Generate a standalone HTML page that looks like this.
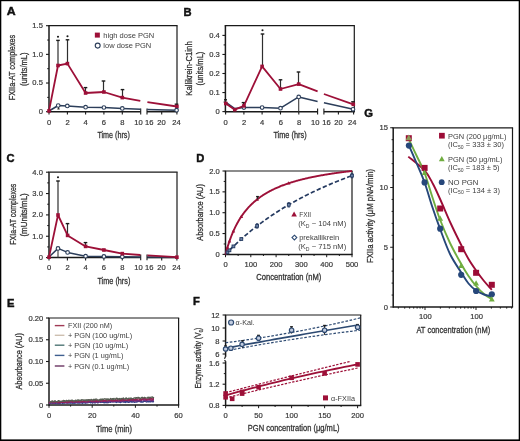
<!DOCTYPE html>
<html><head><meta charset="utf-8"><title>Figure</title>
<style>
html,body{margin:0;padding:0;background:#fff;}
body{width:520px;height:441px;overflow:hidden;}
svg{display:block;font-family:"Liberation Sans", sans-serif;filter:blur(0.3px);}
</style></head>
<body>
<svg width="520" height="441" viewBox="0 0 520 441">
<rect x="0" y="0" width="520" height="441" fill="#fff"/>
<text x="6.70" y="15.40" font-size="11.2" text-anchor="start" fill="#111" font-weight="bold" textLength="8.90" lengthAdjust="spacingAndGlyphs" stroke="#111" stroke-width="0.45" >A</text>
<line x1="48.25" y1="25.70" x2="177.60" y2="25.70" stroke="#1a1a1a" stroke-width="1.2" />
<line x1="177.00" y1="25.70" x2="177.00" y2="111.70" stroke="#1a1a1a" stroke-width="1.2" />
<line x1="49.00" y1="25.70" x2="49.00" y2="112.45" stroke="#1a1a1a" stroke-width="1.5" />
<line x1="49.00" y1="111.70" x2="140.70" y2="111.70" stroke="#1a1a1a" stroke-width="1.5" />
<line x1="147.00" y1="111.70" x2="177.60" y2="111.70" stroke="#1a1a1a" stroke-width="1.5" />
<line x1="140.70" y1="108.50" x2="140.70" y2="114.40" stroke="#1a1a1a" stroke-width="1.1" />
<line x1="147.00" y1="108.50" x2="147.00" y2="114.40" stroke="#1a1a1a" stroke-width="1.1" />
<line x1="49.00" y1="111.70" x2="49.00" y2="114.50" stroke="#1a1a1a" stroke-width="1.1" />
<line x1="67.40" y1="111.70" x2="67.40" y2="114.50" stroke="#1a1a1a" stroke-width="1.1" />
<line x1="85.60" y1="111.70" x2="85.60" y2="114.50" stroke="#1a1a1a" stroke-width="1.1" />
<line x1="103.90" y1="111.70" x2="103.90" y2="114.50" stroke="#1a1a1a" stroke-width="1.1" />
<line x1="122.30" y1="111.70" x2="122.30" y2="114.50" stroke="#1a1a1a" stroke-width="1.1" />
<line x1="161.70" y1="111.70" x2="161.70" y2="114.50" stroke="#1a1a1a" stroke-width="1.1" />
<line x1="176.90" y1="111.70" x2="176.90" y2="114.50" stroke="#1a1a1a" stroke-width="1.1" />
<text x="49.00" y="124.50" font-size="7.6" text-anchor="middle" fill="#383838" stroke="#383838" stroke-width="0.2" >0</text>
<text x="67.50" y="124.50" font-size="7.6" text-anchor="middle" fill="#383838" stroke="#383838" stroke-width="0.2" >2</text>
<text x="85.70" y="124.50" font-size="7.6" text-anchor="middle" fill="#383838" stroke="#383838" stroke-width="0.2" >4</text>
<text x="103.90" y="124.50" font-size="7.6" text-anchor="middle" fill="#383838" stroke="#383838" stroke-width="0.2" >6</text>
<text x="122.30" y="124.50" font-size="7.6" text-anchor="middle" fill="#383838" stroke="#383838" stroke-width="0.2" >8</text>
<text x="138.50" y="124.50" font-size="7.6" text-anchor="middle" fill="#383838" stroke="#383838" stroke-width="0.2" >10</text>
<text x="149.30" y="124.50" font-size="7.6" text-anchor="middle" fill="#383838" stroke="#383838" stroke-width="0.2" >16</text>
<text x="161.60" y="124.50" font-size="7.6" text-anchor="middle" fill="#383838" stroke="#383838" stroke-width="0.2" >20</text>
<text x="176.50" y="124.50" font-size="7.6" text-anchor="middle" fill="#383838" stroke="#383838" stroke-width="0.2" >24</text>
<line x1="46.00" y1="111.70" x2="49.00" y2="111.70" stroke="#1a1a1a" stroke-width="1.1" />
<text x="42.90" y="114.10" font-size="7.6" text-anchor="end" fill="#383838" stroke="#383838" stroke-width="0.2" >0</text>
<line x1="46.00" y1="83.03" x2="49.00" y2="83.03" stroke="#1a1a1a" stroke-width="1.1" />
<text x="42.90" y="85.44" font-size="7.6" text-anchor="end" fill="#383838" stroke="#383838" stroke-width="0.2" >0.5</text>
<line x1="46.00" y1="54.37" x2="49.00" y2="54.37" stroke="#1a1a1a" stroke-width="1.1" />
<text x="42.90" y="56.77" font-size="7.6" text-anchor="end" fill="#383838" stroke="#383838" stroke-width="0.2" >1.0</text>
<line x1="46.00" y1="25.70" x2="49.00" y2="25.70" stroke="#1a1a1a" stroke-width="1.1" />
<text x="42.90" y="28.10" font-size="7.6" text-anchor="end" fill="#383838" stroke="#383838" stroke-width="0.2" >1.5</text>
<line x1="47.20" y1="97.37" x2="49.00" y2="97.37" stroke="#1a1a1a" stroke-width="1.0" />
<line x1="47.20" y1="68.70" x2="49.00" y2="68.70" stroke="#1a1a1a" stroke-width="1.0" />
<line x1="47.20" y1="40.04" x2="49.00" y2="40.04" stroke="#1a1a1a" stroke-width="1.0" />
<text x="97.40" y="138.00" font-size="9.3" text-anchor="start" fill="#333333" textLength="32.40" lengthAdjust="spacingAndGlyphs" stroke="#333333" stroke-width="0.3" >Time (hrs)</text>
<text x="15.30" y="67.50" font-size="9.3" text-anchor="middle" fill="#333333" textLength="65.50" lengthAdjust="spacingAndGlyphs" transform="rotate(-90 15.30 67.50)" stroke="#333333" stroke-width="0.3" >FXIIa-AT complexes</text>
<text x="27.30" y="69.30" font-size="9.3" text-anchor="middle" fill="#333333" textLength="33.50" lengthAdjust="spacingAndGlyphs" transform="rotate(-90 27.30 69.30)" stroke="#333333" stroke-width="0.3" >(units/mL)</text>
<rect x="94.85" y="32.60" width="5.00" height="5.00" fill="#9d1038" />
<text x="103.30" y="37.60" font-size="7.5" text-anchor="start" fill="#404040" textLength="51.00" lengthAdjust="spacingAndGlyphs" >high dose PGN</text>
<circle cx="97.70" cy="45.60" r="2.45" fill="white" stroke="#2c3e5a" stroke-width="1.15"/>
<text x="103.30" y="48.10" font-size="7.5" text-anchor="start" fill="#404040" textLength="48.00" lengthAdjust="spacingAndGlyphs" >low dose PGN</text>
<line x1="58.50" y1="105.50" x2="58.50" y2="109.00" stroke="#2e2e2e" stroke-width="1.1" />
<line x1="57.30" y1="109.00" x2="59.70" y2="109.00" stroke="#2e2e2e" stroke-width="1.0" />
<polyline points="49.00,111.00 58.20,105.50 67.30,105.90 85.60,107.20 103.90,107.50 122.30,108.40 140.50,109.30" fill="none" stroke="#2c3e5a" stroke-width="1.5" stroke-linejoin="round" />
<polyline points="147.20,109.60 176.90,110.20" fill="none" stroke="#2c3e5a" stroke-width="1.5" stroke-linejoin="round" />
<line x1="58.00" y1="65.50" x2="58.00" y2="40.40" stroke="#2e2e2e" stroke-width="1.2" />
<line x1="56.20" y1="40.40" x2="59.80" y2="40.40" stroke="#1a1a1a" stroke-width="1.4" />
<circle cx="58.00" cy="36.80" r="1.05" fill="#1a1a1a" stroke="none" stroke-width="0"/>
<line x1="67.50" y1="63.60" x2="67.50" y2="39.80" stroke="#2e2e2e" stroke-width="1.2" />
<line x1="65.70" y1="39.80" x2="69.30" y2="39.80" stroke="#1a1a1a" stroke-width="1.4" />
<circle cx="67.50" cy="36.20" r="1.05" fill="#1a1a1a" stroke="none" stroke-width="0"/>
<line x1="85.50" y1="93.00" x2="85.50" y2="87.60" stroke="#2e2e2e" stroke-width="1.2" />
<line x1="83.70" y1="87.60" x2="87.30" y2="87.60" stroke="#1a1a1a" stroke-width="1.4" />
<line x1="103.50" y1="92.00" x2="103.50" y2="81.00" stroke="#2e2e2e" stroke-width="1.2" />
<line x1="101.70" y1="81.00" x2="105.30" y2="81.00" stroke="#1a1a1a" stroke-width="1.4" />
<line x1="122.50" y1="97.60" x2="122.50" y2="89.60" stroke="#2e2e2e" stroke-width="1.2" />
<line x1="120.70" y1="89.60" x2="124.30" y2="89.60" stroke="#1a1a1a" stroke-width="1.4" />
<line x1="176.50" y1="106.50" x2="176.50" y2="104.20" stroke="#2e2e2e" stroke-width="1.2" />
<line x1="174.70" y1="104.20" x2="178.30" y2="104.20" stroke="#1a1a1a" stroke-width="1.4" />
<polyline points="49.00,110.90 58.00,65.50 67.40,63.60 85.60,93.00 103.90,92.00 122.30,97.60 140.30,100.80" fill="none" stroke="#9d1038" stroke-width="1.8" stroke-linejoin="round" />
<polyline points="147.40,102.20 176.90,106.50" fill="none" stroke="#9d1038" stroke-width="1.8" stroke-linejoin="round" />
<rect x="47.20" y="109.10" width="3.60" height="3.60" fill="#9d1038" />
<rect x="56.20" y="63.70" width="3.60" height="3.60" fill="#9d1038" />
<rect x="65.60" y="61.80" width="3.60" height="3.60" fill="#9d1038" />
<rect x="83.80" y="91.20" width="3.60" height="3.60" fill="#9d1038" />
<rect x="102.10" y="90.20" width="3.60" height="3.60" fill="#9d1038" />
<rect x="120.50" y="95.80" width="3.60" height="3.60" fill="#9d1038" />
<rect x="175.10" y="104.70" width="3.60" height="3.60" fill="#9d1038" />
<circle cx="58.20" cy="105.50" r="1.8" fill="white" stroke="#2c3e5a" stroke-width="1.1"/>
<circle cx="67.30" cy="105.90" r="1.8" fill="white" stroke="#2c3e5a" stroke-width="1.1"/>
<circle cx="85.60" cy="107.20" r="1.8" fill="white" stroke="#2c3e5a" stroke-width="1.1"/>
<circle cx="103.90" cy="107.50" r="1.8" fill="white" stroke="#2c3e5a" stroke-width="1.1"/>
<circle cx="122.30" cy="108.40" r="1.8" fill="white" stroke="#2c3e5a" stroke-width="1.1"/>
<circle cx="176.60" cy="110.20" r="1.8" fill="white" stroke="#2c3e5a" stroke-width="1.1"/>
<text x="183.40" y="15.50" font-size="11.2" text-anchor="start" fill="#111" font-weight="bold" stroke="#111" stroke-width="0.45" >B</text>
<line x1="224.65" y1="25.70" x2="354.90" y2="25.70" stroke="#1a1a1a" stroke-width="1.2" />
<line x1="354.30" y1="25.70" x2="354.30" y2="111.70" stroke="#1a1a1a" stroke-width="1.2" />
<line x1="225.40" y1="25.70" x2="225.40" y2="112.45" stroke="#1a1a1a" stroke-width="1.5" />
<line x1="225.40" y1="111.70" x2="317.60" y2="111.70" stroke="#1a1a1a" stroke-width="1.5" />
<line x1="323.90" y1="111.70" x2="354.90" y2="111.70" stroke="#1a1a1a" stroke-width="1.5" />
<line x1="317.60" y1="108.50" x2="317.60" y2="114.40" stroke="#1a1a1a" stroke-width="1.1" />
<line x1="323.90" y1="108.50" x2="323.90" y2="114.40" stroke="#1a1a1a" stroke-width="1.1" />
<line x1="225.60" y1="111.70" x2="225.60" y2="114.50" stroke="#1a1a1a" stroke-width="1.1" />
<line x1="243.90" y1="111.70" x2="243.90" y2="114.50" stroke="#1a1a1a" stroke-width="1.1" />
<line x1="262.10" y1="111.70" x2="262.10" y2="114.50" stroke="#1a1a1a" stroke-width="1.1" />
<line x1="280.50" y1="111.70" x2="280.50" y2="114.50" stroke="#1a1a1a" stroke-width="1.1" />
<line x1="298.80" y1="111.70" x2="298.80" y2="114.50" stroke="#1a1a1a" stroke-width="1.1" />
<line x1="338.40" y1="111.70" x2="338.40" y2="114.50" stroke="#1a1a1a" stroke-width="1.1" />
<line x1="353.60" y1="111.70" x2="353.60" y2="114.50" stroke="#1a1a1a" stroke-width="1.1" />
<text x="225.70" y="124.50" font-size="7.6" text-anchor="middle" fill="#383838" stroke="#383838" stroke-width="0.2" >0</text>
<text x="244.00" y="124.50" font-size="7.6" text-anchor="middle" fill="#383838" stroke="#383838" stroke-width="0.2" >2</text>
<text x="262.10" y="124.50" font-size="7.6" text-anchor="middle" fill="#383838" stroke="#383838" stroke-width="0.2" >4</text>
<text x="280.80" y="124.50" font-size="7.6" text-anchor="middle" fill="#383838" stroke="#383838" stroke-width="0.2" >6</text>
<text x="299.00" y="124.50" font-size="7.6" text-anchor="middle" fill="#383838" stroke="#383838" stroke-width="0.2" >8</text>
<text x="315.20" y="124.50" font-size="7.6" text-anchor="middle" fill="#383838" stroke="#383838" stroke-width="0.2" >10</text>
<text x="326.60" y="124.50" font-size="7.6" text-anchor="middle" fill="#383838" stroke="#383838" stroke-width="0.2" >16</text>
<text x="338.40" y="124.50" font-size="7.6" text-anchor="middle" fill="#383838" stroke="#383838" stroke-width="0.2" >20</text>
<text x="352.20" y="124.50" font-size="7.6" text-anchor="middle" fill="#383838" stroke="#383838" stroke-width="0.2" >24</text>
<line x1="222.40" y1="111.60" x2="225.40" y2="111.60" stroke="#1a1a1a" stroke-width="1.1" />
<text x="219.80" y="114.00" font-size="7.6" text-anchor="end" fill="#383838" stroke="#383838" stroke-width="0.2" >0</text>
<line x1="222.40" y1="92.55" x2="225.40" y2="92.55" stroke="#1a1a1a" stroke-width="1.1" />
<text x="219.80" y="94.95" font-size="7.6" text-anchor="end" fill="#383838" stroke="#383838" stroke-width="0.2" >0.1</text>
<line x1="222.40" y1="73.50" x2="225.40" y2="73.50" stroke="#1a1a1a" stroke-width="1.1" />
<text x="219.80" y="75.90" font-size="7.6" text-anchor="end" fill="#383838" stroke="#383838" stroke-width="0.2" >0.2</text>
<line x1="222.40" y1="54.45" x2="225.40" y2="54.45" stroke="#1a1a1a" stroke-width="1.1" />
<text x="219.80" y="56.85" font-size="7.6" text-anchor="end" fill="#383838" stroke="#383838" stroke-width="0.2" >0.3</text>
<line x1="222.40" y1="35.40" x2="225.40" y2="35.40" stroke="#1a1a1a" stroke-width="1.1" />
<text x="219.80" y="37.80" font-size="7.6" text-anchor="end" fill="#383838" stroke="#383838" stroke-width="0.2" >0.4</text>
<line x1="223.60" y1="102.07" x2="225.40" y2="102.07" stroke="#1a1a1a" stroke-width="1.0" />
<line x1="223.60" y1="83.02" x2="225.40" y2="83.02" stroke="#1a1a1a" stroke-width="1.0" />
<line x1="223.60" y1="63.97" x2="225.40" y2="63.97" stroke="#1a1a1a" stroke-width="1.0" />
<line x1="223.60" y1="44.92" x2="225.40" y2="44.92" stroke="#1a1a1a" stroke-width="1.0" />
<text x="273.40" y="137.80" font-size="9.3" text-anchor="start" fill="#333333" textLength="33.20" lengthAdjust="spacingAndGlyphs" stroke="#333333" stroke-width="0.3" >Time (hrs)</text>
<text x="191.80" y="68.50" font-size="9.3" text-anchor="middle" fill="#333333" textLength="54.50" lengthAdjust="spacingAndGlyphs" transform="rotate(-90 191.80 68.50)" stroke="#333333" stroke-width="0.3" >Kallikrein-C1inh</text>
<text x="202.60" y="68.50" font-size="9.3" text-anchor="middle" fill="#333333" textLength="33.80" lengthAdjust="spacingAndGlyphs" transform="rotate(-90 202.60 68.50)" stroke="#333333" stroke-width="0.3" >(units/mL)</text>
<line x1="298.70" y1="96.90" x2="298.70" y2="111.70" stroke="#3a3a3a" stroke-width="1.1" />
<polyline points="225.60,102.00 234.80,108.60 243.90,107.60 262.10,107.60 280.50,108.20 298.70,96.90 317.60,101.60" fill="none" stroke="#2c3e5a" stroke-width="1.5" stroke-linejoin="round" />
<polyline points="323.90,102.70 353.30,109.30" fill="none" stroke="#2c3e5a" stroke-width="1.5" stroke-linejoin="round" />
<line x1="225.50" y1="103.50" x2="225.50" y2="99.80" stroke="#2e2e2e" stroke-width="1.2" />
<line x1="224.00" y1="99.80" x2="227.00" y2="99.80" stroke="#1a1a1a" stroke-width="1.4" />
<line x1="243.50" y1="105.90" x2="243.50" y2="102.60" stroke="#2e2e2e" stroke-width="1.2" />
<line x1="241.70" y1="102.60" x2="245.30" y2="102.60" stroke="#1a1a1a" stroke-width="1.4" />
<line x1="262.50" y1="66.40" x2="262.50" y2="34.00" stroke="#2e2e2e" stroke-width="1.2" />
<line x1="260.70" y1="34.00" x2="264.30" y2="34.00" stroke="#1a1a1a" stroke-width="1.4" />
<circle cx="262.50" cy="30.20" r="1.05" fill="#1a1a1a" stroke="none" stroke-width="0"/>
<line x1="280.50" y1="89.00" x2="280.50" y2="79.80" stroke="#2e2e2e" stroke-width="1.2" />
<line x1="278.70" y1="79.80" x2="282.30" y2="79.80" stroke="#1a1a1a" stroke-width="1.4" />
<line x1="298.50" y1="84.10" x2="298.50" y2="72.00" stroke="#2e2e2e" stroke-width="1.2" />
<line x1="296.70" y1="72.00" x2="300.30" y2="72.00" stroke="#1a1a1a" stroke-width="1.4" />
<line x1="353.00" y1="104.30" x2="353.00" y2="101.80" stroke="#2e2e2e" stroke-width="1.2" />
<line x1="351.20" y1="101.80" x2="354.80" y2="101.80" stroke="#1a1a1a" stroke-width="1.4" />
<polyline points="225.80,103.50 234.80,109.70 243.90,105.90 262.10,66.40 280.50,89.00 298.70,84.10 317.60,91.30" fill="none" stroke="#9d1038" stroke-width="1.8" stroke-linejoin="round" />
<polyline points="323.90,94.00 353.30,104.30" fill="none" stroke="#9d1038" stroke-width="1.8" stroke-linejoin="round" />
<circle cx="243.90" cy="107.60" r="1.8" fill="white" stroke="#2c3e5a" stroke-width="1.1"/>
<circle cx="262.10" cy="107.60" r="1.8" fill="white" stroke="#2c3e5a" stroke-width="1.1"/>
<circle cx="280.50" cy="108.20" r="1.8" fill="white" stroke="#2c3e5a" stroke-width="1.1"/>
<circle cx="298.70" cy="96.90" r="1.8" fill="white" stroke="#2c3e5a" stroke-width="1.1"/>
<circle cx="353.00" cy="109.30" r="1.8" fill="white" stroke="#2c3e5a" stroke-width="1.1"/>
<rect x="224.00" y="101.70" width="3.60" height="3.60" fill="#9d1038" />
<rect x="233.00" y="107.90" width="3.60" height="3.60" fill="#9d1038" />
<rect x="242.10" y="104.10" width="3.60" height="3.60" fill="#9d1038" />
<rect x="260.30" y="64.60" width="3.60" height="3.60" fill="#9d1038" />
<rect x="278.70" y="87.20" width="3.60" height="3.60" fill="#9d1038" />
<rect x="296.90" y="82.30" width="3.60" height="3.60" fill="#9d1038" />
<rect x="351.50" y="102.50" width="3.60" height="3.60" fill="#9d1038" />
<text x="6.40" y="161.60" font-size="11.2" text-anchor="start" fill="#111" font-weight="bold" stroke="#111" stroke-width="0.45" >C</text>
<line x1="48.25" y1="172.20" x2="177.60" y2="172.20" stroke="#1a1a1a" stroke-width="1.2" />
<line x1="177.00" y1="172.20" x2="177.00" y2="257.60" stroke="#1a1a1a" stroke-width="1.2" />
<line x1="49.00" y1="172.20" x2="49.00" y2="258.35" stroke="#1a1a1a" stroke-width="1.5" />
<line x1="49.00" y1="257.60" x2="140.70" y2="257.60" stroke="#1a1a1a" stroke-width="1.5" />
<line x1="147.00" y1="257.60" x2="177.60" y2="257.60" stroke="#1a1a1a" stroke-width="1.5" />
<line x1="140.70" y1="254.40" x2="140.70" y2="260.30" stroke="#1a1a1a" stroke-width="1.1" />
<line x1="147.00" y1="254.40" x2="147.00" y2="260.30" stroke="#1a1a1a" stroke-width="1.1" />
<line x1="49.00" y1="257.60" x2="49.00" y2="260.40" stroke="#1a1a1a" stroke-width="1.1" />
<line x1="67.40" y1="257.60" x2="67.40" y2="260.40" stroke="#1a1a1a" stroke-width="1.1" />
<line x1="85.60" y1="257.60" x2="85.60" y2="260.40" stroke="#1a1a1a" stroke-width="1.1" />
<line x1="103.90" y1="257.60" x2="103.90" y2="260.40" stroke="#1a1a1a" stroke-width="1.1" />
<line x1="122.30" y1="257.60" x2="122.30" y2="260.40" stroke="#1a1a1a" stroke-width="1.1" />
<line x1="161.70" y1="257.60" x2="161.70" y2="260.40" stroke="#1a1a1a" stroke-width="1.1" />
<line x1="176.90" y1="257.60" x2="176.90" y2="260.40" stroke="#1a1a1a" stroke-width="1.1" />
<text x="49.00" y="270.40" font-size="7.6" text-anchor="middle" fill="#383838" stroke="#383838" stroke-width="0.2" >0</text>
<text x="67.50" y="270.40" font-size="7.6" text-anchor="middle" fill="#383838" stroke="#383838" stroke-width="0.2" >2</text>
<text x="85.70" y="270.40" font-size="7.6" text-anchor="middle" fill="#383838" stroke="#383838" stroke-width="0.2" >4</text>
<text x="103.90" y="270.40" font-size="7.6" text-anchor="middle" fill="#383838" stroke="#383838" stroke-width="0.2" >6</text>
<text x="122.30" y="270.40" font-size="7.6" text-anchor="middle" fill="#383838" stroke="#383838" stroke-width="0.2" >8</text>
<text x="138.50" y="270.40" font-size="7.6" text-anchor="middle" fill="#383838" stroke="#383838" stroke-width="0.2" >10</text>
<text x="149.30" y="270.40" font-size="7.6" text-anchor="middle" fill="#383838" stroke="#383838" stroke-width="0.2" >16</text>
<text x="161.60" y="270.40" font-size="7.6" text-anchor="middle" fill="#383838" stroke="#383838" stroke-width="0.2" >20</text>
<text x="176.50" y="270.40" font-size="7.6" text-anchor="middle" fill="#383838" stroke="#383838" stroke-width="0.2" >24</text>
<line x1="46.00" y1="257.60" x2="49.00" y2="257.60" stroke="#1a1a1a" stroke-width="1.1" />
<text x="42.90" y="260.00" font-size="7.6" text-anchor="end" fill="#383838" stroke="#383838" stroke-width="0.2" >0</text>
<line x1="46.00" y1="236.25" x2="49.00" y2="236.25" stroke="#1a1a1a" stroke-width="1.1" />
<text x="42.90" y="238.65" font-size="7.6" text-anchor="end" fill="#383838" stroke="#383838" stroke-width="0.2" >1.0</text>
<line x1="46.00" y1="214.90" x2="49.00" y2="214.90" stroke="#1a1a1a" stroke-width="1.1" />
<text x="42.90" y="217.30" font-size="7.6" text-anchor="end" fill="#383838" stroke="#383838" stroke-width="0.2" >2.0</text>
<line x1="46.00" y1="193.55" x2="49.00" y2="193.55" stroke="#1a1a1a" stroke-width="1.1" />
<text x="42.90" y="195.95" font-size="7.6" text-anchor="end" fill="#383838" stroke="#383838" stroke-width="0.2" >3.0</text>
<line x1="46.00" y1="172.20" x2="49.00" y2="172.20" stroke="#1a1a1a" stroke-width="1.1" />
<text x="42.90" y="174.60" font-size="7.6" text-anchor="end" fill="#383838" stroke="#383838" stroke-width="0.2" >4.0</text>
<line x1="47.20" y1="246.93" x2="49.00" y2="246.93" stroke="#1a1a1a" stroke-width="1.0" />
<line x1="47.20" y1="225.58" x2="49.00" y2="225.58" stroke="#1a1a1a" stroke-width="1.0" />
<line x1="47.20" y1="204.23" x2="49.00" y2="204.23" stroke="#1a1a1a" stroke-width="1.0" />
<line x1="47.20" y1="182.88" x2="49.00" y2="182.88" stroke="#1a1a1a" stroke-width="1.0" />
<text x="97.40" y="284.20" font-size="9.3" text-anchor="start" fill="#333333" textLength="33.00" lengthAdjust="spacingAndGlyphs" stroke="#333333" stroke-width="0.3" >Time (hrs)</text>
<text x="15.80" y="214.20" font-size="9.3" text-anchor="middle" fill="#333333" textLength="61.00" lengthAdjust="spacingAndGlyphs" transform="rotate(-90 15.80 214.20)" stroke="#333333" stroke-width="0.3" >FXIa-AT complexes</text>
<text x="27.30" y="214.90" font-size="9.3" text-anchor="middle" fill="#333333" textLength="43.30" lengthAdjust="spacingAndGlyphs" transform="rotate(-90 27.30 214.90)" stroke="#333333" stroke-width="0.3" >(mUnits/mL)</text>
<line x1="58.00" y1="248.40" x2="58.00" y2="257.60" stroke="#3a3a3a" stroke-width="1.1" />
<polyline points="49.00,257.00 58.00,248.40 67.60,252.40 85.60,256.20 103.90,256.40 122.30,256.80 140.50,257.00" fill="none" stroke="#2c3e5a" stroke-width="1.5" stroke-linejoin="round" />
<polyline points="147.20,257.00 176.90,257.20" fill="none" stroke="#2c3e5a" stroke-width="1.5" stroke-linejoin="round" />
<line x1="58.00" y1="215.00" x2="58.00" y2="181.00" stroke="#2e2e2e" stroke-width="1.2" />
<line x1="56.20" y1="181.00" x2="59.80" y2="181.00" stroke="#1a1a1a" stroke-width="1.4" />
<circle cx="58.00" cy="177.20" r="1.05" fill="#1a1a1a" stroke="none" stroke-width="0"/>
<line x1="67.50" y1="235.40" x2="67.50" y2="223.60" stroke="#2e2e2e" stroke-width="1.2" />
<line x1="65.70" y1="223.60" x2="69.30" y2="223.60" stroke="#1a1a1a" stroke-width="1.4" />
<line x1="85.50" y1="246.40" x2="85.50" y2="242.60" stroke="#2e2e2e" stroke-width="1.2" />
<line x1="83.70" y1="242.60" x2="87.30" y2="242.60" stroke="#1a1a1a" stroke-width="1.4" />
<polyline points="49.00,257.20 58.00,215.00 67.60,235.40 85.60,246.40 103.90,250.00 122.30,253.60 140.30,255.00" fill="none" stroke="#9d1038" stroke-width="1.8" stroke-linejoin="round" />
<polyline points="147.40,255.40 176.90,257.20" fill="none" stroke="#9d1038" stroke-width="1.8" stroke-linejoin="round" />
<circle cx="58.00" cy="248.40" r="1.8" fill="white" stroke="#2c3e5a" stroke-width="1.1"/>
<circle cx="67.60" cy="252.40" r="1.8" fill="white" stroke="#2c3e5a" stroke-width="1.1"/>
<circle cx="85.60" cy="256.20" r="1.8" fill="white" stroke="#2c3e5a" stroke-width="1.1"/>
<circle cx="103.90" cy="256.40" r="1.8" fill="white" stroke="#2c3e5a" stroke-width="1.1"/>
<circle cx="122.30" cy="256.80" r="1.8" fill="white" stroke="#2c3e5a" stroke-width="1.1"/>
<rect x="47.20" y="255.40" width="3.60" height="3.60" fill="#9d1038" />
<rect x="56.20" y="213.20" width="3.60" height="3.60" fill="#9d1038" />
<rect x="65.80" y="233.60" width="3.60" height="3.60" fill="#9d1038" />
<rect x="83.80" y="244.60" width="3.60" height="3.60" fill="#9d1038" />
<rect x="102.10" y="248.20" width="3.60" height="3.60" fill="#9d1038" />
<rect x="120.50" y="251.80" width="3.60" height="3.60" fill="#9d1038" />
<rect x="175.10" y="255.40" width="3.60" height="3.60" fill="#9d1038" />
<text x="196.20" y="161.60" font-size="11.2" text-anchor="start" fill="#111" font-weight="bold" stroke="#111" stroke-width="0.45" >D</text>
<line x1="224.75" y1="171.00" x2="352.60" y2="171.00" stroke="#1a1a1a" stroke-width="1.2" />
<line x1="352.00" y1="171.00" x2="352.00" y2="254.40" stroke="#1a1a1a" stroke-width="1.2" />
<line x1="225.50" y1="171.00" x2="225.50" y2="255.15" stroke="#1a1a1a" stroke-width="1.5" />
<line x1="225.50" y1="254.40" x2="352.60" y2="254.40" stroke="#1a1a1a" stroke-width="1.5" />
<line x1="225.50" y1="254.40" x2="225.50" y2="257.20" stroke="#1a1a1a" stroke-width="1.0" />
<line x1="238.15" y1="254.40" x2="238.15" y2="256.00" stroke="#1a1a1a" stroke-width="1.0" />
<line x1="250.80" y1="254.40" x2="250.80" y2="257.20" stroke="#1a1a1a" stroke-width="1.0" />
<line x1="263.45" y1="254.40" x2="263.45" y2="256.00" stroke="#1a1a1a" stroke-width="1.0" />
<line x1="276.10" y1="254.40" x2="276.10" y2="257.20" stroke="#1a1a1a" stroke-width="1.0" />
<line x1="288.75" y1="254.40" x2="288.75" y2="256.00" stroke="#1a1a1a" stroke-width="1.0" />
<line x1="301.40" y1="254.40" x2="301.40" y2="257.20" stroke="#1a1a1a" stroke-width="1.0" />
<line x1="314.05" y1="254.40" x2="314.05" y2="256.00" stroke="#1a1a1a" stroke-width="1.0" />
<line x1="326.70" y1="254.40" x2="326.70" y2="257.20" stroke="#1a1a1a" stroke-width="1.0" />
<line x1="339.35" y1="254.40" x2="339.35" y2="256.00" stroke="#1a1a1a" stroke-width="1.0" />
<line x1="352.00" y1="254.40" x2="352.00" y2="257.20" stroke="#1a1a1a" stroke-width="1.0" />
<text x="225.50" y="267.00" font-size="7.6" text-anchor="middle" fill="#383838" stroke="#383838" stroke-width="0.2" >0</text>
<text x="250.80" y="267.00" font-size="7.6" text-anchor="middle" fill="#383838" stroke="#383838" stroke-width="0.2" >100</text>
<text x="276.10" y="267.00" font-size="7.6" text-anchor="middle" fill="#383838" stroke="#383838" stroke-width="0.2" >200</text>
<text x="301.40" y="267.00" font-size="7.6" text-anchor="middle" fill="#383838" stroke="#383838" stroke-width="0.2" >300</text>
<text x="326.70" y="267.00" font-size="7.6" text-anchor="middle" fill="#383838" stroke="#383838" stroke-width="0.2" >400</text>
<text x="352.00" y="267.00" font-size="7.6" text-anchor="middle" fill="#383838" stroke="#383838" stroke-width="0.2" >500</text>
<line x1="222.50" y1="254.40" x2="225.50" y2="254.40" stroke="#1a1a1a" stroke-width="1.1" />
<text x="219.80" y="257.00" font-size="7.6" text-anchor="end" fill="#383838" stroke="#383838" stroke-width="0.2" >0</text>
<line x1="222.50" y1="233.55" x2="225.50" y2="233.55" stroke="#1a1a1a" stroke-width="1.1" />
<text x="219.80" y="236.15" font-size="7.6" text-anchor="end" fill="#383838" stroke="#383838" stroke-width="0.2" >0.5</text>
<line x1="222.50" y1="212.70" x2="225.50" y2="212.70" stroke="#1a1a1a" stroke-width="1.1" />
<text x="219.80" y="215.30" font-size="7.6" text-anchor="end" fill="#383838" stroke="#383838" stroke-width="0.2" >1.0</text>
<line x1="222.50" y1="191.85" x2="225.50" y2="191.85" stroke="#1a1a1a" stroke-width="1.1" />
<text x="219.80" y="194.45" font-size="7.6" text-anchor="end" fill="#383838" stroke="#383838" stroke-width="0.2" >1.5</text>
<line x1="222.50" y1="171.00" x2="225.50" y2="171.00" stroke="#1a1a1a" stroke-width="1.1" />
<text x="219.80" y="173.60" font-size="7.6" text-anchor="end" fill="#383838" stroke="#383838" stroke-width="0.2" >2.0</text>
<line x1="223.70" y1="243.97" x2="225.50" y2="243.97" stroke="#1a1a1a" stroke-width="1.0" />
<line x1="223.70" y1="223.12" x2="225.50" y2="223.12" stroke="#1a1a1a" stroke-width="1.0" />
<line x1="223.70" y1="202.28" x2="225.50" y2="202.28" stroke="#1a1a1a" stroke-width="1.0" />
<line x1="223.70" y1="181.43" x2="225.50" y2="181.43" stroke="#1a1a1a" stroke-width="1.0" />
<text x="256.30" y="279.90" font-size="9.3" text-anchor="start" fill="#333333" textLength="65.00" lengthAdjust="spacingAndGlyphs" stroke="#333333" stroke-width="0.3" >Concentration (nM)</text>
<text x="203.30" y="212.40" font-size="9.3" text-anchor="middle" fill="#333333" textLength="56.50" lengthAdjust="spacingAndGlyphs" transform="rotate(-90 203.30 212.40)" stroke="#333333" stroke-width="0.3" >Absorbance (AU)</text>
<polyline points="225.50,254.40 226.76,253.07 228.03,251.76 229.29,250.47 230.56,249.19 231.82,247.93 233.09,246.69 234.35,245.47 235.62,244.26 236.88,243.07 238.15,241.89 239.41,240.73 240.68,239.58 241.94,238.45 243.21,237.33 244.47,236.23 245.74,235.14 247.00,234.06 248.27,233.00 249.53,231.95 250.80,230.91 252.06,229.89 253.33,228.88 254.59,227.88 255.86,226.89 257.12,225.92 258.39,224.95 259.65,224.00 260.92,223.06 262.19,222.13 263.45,221.21 264.72,220.30 265.98,219.40 267.25,218.51 268.51,217.63 269.77,216.76 271.04,215.91 272.31,215.06 273.57,214.22 274.83,213.39 276.10,212.56 277.37,211.75 278.63,210.95 279.89,210.15 281.16,209.36 282.43,208.59 283.69,207.82 284.95,207.05 286.22,206.30 287.49,205.55 288.75,204.81 290.01,204.08 291.28,203.36 292.55,202.64 293.81,201.93 295.07,201.23 296.34,200.54 297.61,199.85 298.87,199.17 300.13,198.50 301.40,197.83 302.67,197.17 303.93,196.51 305.19,195.86 306.46,195.22 307.73,194.59 308.99,193.96 310.25,193.33 311.52,192.72 312.78,192.10 314.05,191.50 315.31,190.90 316.58,190.30 317.85,189.71 319.11,189.13 320.38,188.55 321.64,187.98 322.90,187.41 324.17,186.85 325.44,186.29 326.70,185.74 327.97,185.19 329.23,184.64 330.50,184.11 331.76,183.57 333.02,183.04 334.29,182.52 335.56,182.00 336.82,181.48 338.08,180.97 339.35,180.47 340.62,179.97 341.88,179.47 343.14,178.97 344.41,178.48 345.68,178.00 346.94,177.52 348.20,177.04 349.47,176.57 350.74,176.10 352.00,175.63" fill="none" stroke="#253a60" stroke-width="1.7" stroke-linejoin="round" stroke-dasharray="4.4,2.2"/>
<polyline points="225.50,254.40 226.13,252.04 226.76,249.78 227.40,247.62 228.03,245.56 228.66,243.59 229.29,241.70 229.93,239.89 230.56,238.15 231.19,236.48 231.82,234.88 232.46,233.33 233.09,231.84 233.72,230.41 234.35,229.03 234.99,227.70 235.62,226.41 236.25,225.17 236.88,223.97 237.52,222.81 238.15,221.69 238.78,220.60 239.41,219.55 240.05,218.53 240.68,217.54 241.31,216.58 241.94,215.65 242.58,214.75 243.21,213.87 243.84,213.02 244.47,212.19 245.11,211.38 245.74,210.60 246.37,209.83 247.00,209.09 247.64,208.37 248.27,207.66 248.90,206.97 249.53,206.30 250.17,205.65 250.80,205.01 251.43,204.39 252.06,203.79 252.70,203.19 253.33,202.61 253.96,202.05 254.59,201.50 255.23,200.96 255.86,200.43 256.49,199.91 257.12,199.41 257.76,198.91 258.39,198.43 259.02,197.96 259.65,197.49 260.29,197.04 260.92,196.59 261.55,196.16 262.19,195.73 262.82,195.31 263.45,194.90 264.08,194.50 264.72,194.11 265.35,193.72 265.98,193.34 266.61,192.97 267.25,192.60 267.88,192.24 268.51,191.89 269.14,191.55 269.77,191.21 270.41,190.87 271.04,190.55 271.67,190.22 272.31,189.91 272.94,189.60 273.57,189.29 274.20,188.99 274.83,188.70 275.47,188.40 276.10,188.12 276.73,187.84 277.37,187.56 278.00,187.29 278.63,187.02 279.26,186.76 279.89,186.50 280.53,186.24 281.16,185.99 281.79,185.74 282.43,185.50 283.06,185.26 283.69,185.02 284.32,184.79 284.95,184.56 285.59,184.33 286.22,184.11 286.85,183.89 287.49,183.67 288.12,183.46 288.75,183.25 289.38,183.04 290.01,182.84 290.65,182.64 291.28,182.44 291.91,182.24 292.55,182.05 293.18,181.86 293.81,181.67 294.44,181.48 295.07,181.30 295.71,181.12 296.34,180.94 296.97,180.76 297.61,180.59 298.24,180.42 298.87,180.25 299.50,180.08 300.13,179.91 300.77,179.75 301.40,179.59 302.03,179.43 302.67,179.27 303.30,179.12 303.93,178.96 304.56,178.81 305.19,178.66 305.83,178.51 306.46,178.36 307.09,178.22 307.73,178.08 308.36,177.93 308.99,177.79 309.62,177.66 310.25,177.52 310.89,177.38 311.52,177.25 312.15,177.12 312.78,176.99 313.42,176.86 314.05,176.73 314.68,176.61 315.31,176.48 315.95,176.36 316.58,176.23 317.21,176.11 317.85,175.99 318.48,175.87 319.11,175.76 319.74,175.64 320.38,175.53 321.01,175.41 321.64,175.30 322.27,175.19 322.90,175.08 323.54,174.97 324.17,174.86 324.80,174.76 325.44,174.65 326.07,174.55 326.70,174.44 327.33,174.34 327.97,174.24 328.60,174.14 329.23,174.04 329.86,173.94 330.50,173.84 331.13,173.74 331.76,173.65 332.39,173.55 333.02,173.46 333.66,173.37 334.29,173.27 334.92,173.18 335.56,173.09 336.19,173.00 336.82,172.91 337.45,172.83 338.08,172.74 338.72,172.65 339.35,172.57 339.98,172.48 340.62,172.40 341.25,172.31 341.88,172.23 342.51,172.15 343.14,172.07 343.78,171.99 344.41,171.91 345.04,171.83 345.68,171.75 346.31,171.67 346.94,171.59 347.57,171.52 348.20,171.44 348.84,171.37 349.47,171.29 350.10,171.22 350.74,171.14 351.37,171.07 352.00,171.00" fill="none" stroke="#9d1038" stroke-width="1.9" stroke-linejoin="round" />
<rect x="226.07" y="250.93" width="2.80" height="2.80" fill="#6f85a8" stroke="#253a60" stroke-width="0.9"/>
<rect x="228.05" y="248.91" width="2.80" height="2.80" fill="#6f85a8" stroke="#253a60" stroke-width="0.9"/>
<rect x="232.01" y="244.98" width="2.80" height="2.80" fill="#6f85a8" stroke="#253a60" stroke-width="0.9"/>
<rect x="239.91" y="237.61" width="2.80" height="2.80" fill="#6f85a8" stroke="#253a60" stroke-width="0.9"/>
<line x1="257.12" y1="228.12" x2="257.12" y2="223.72" stroke="#253a60" stroke-width="1.0" />
<line x1="255.93" y1="223.72" x2="258.32" y2="223.72" stroke="#253a60" stroke-width="0.9" />
<line x1="255.93" y1="228.12" x2="258.32" y2="228.12" stroke="#253a60" stroke-width="0.9" />
<rect x="255.72" y="224.52" width="2.80" height="2.80" fill="#6f85a8" stroke="#253a60" stroke-width="0.9"/>
<line x1="288.75" y1="207.01" x2="288.75" y2="202.61" stroke="#253a60" stroke-width="1.0" />
<line x1="287.55" y1="202.61" x2="289.95" y2="202.61" stroke="#253a60" stroke-width="0.9" />
<line x1="287.55" y1="207.01" x2="289.95" y2="207.01" stroke="#253a60" stroke-width="0.9" />
<rect x="287.35" y="203.41" width="2.80" height="2.80" fill="#6f85a8" stroke="#253a60" stroke-width="0.9"/>
<line x1="352.00" y1="177.83" x2="352.00" y2="173.43" stroke="#253a60" stroke-width="1.0" />
<line x1="350.80" y1="173.43" x2="353.20" y2="173.43" stroke="#253a60" stroke-width="0.9" />
<line x1="350.80" y1="177.83" x2="353.20" y2="177.83" stroke="#253a60" stroke-width="0.9" />
<rect x="350.60" y="174.23" width="2.80" height="2.80" fill="#6f85a8" stroke="#253a60" stroke-width="0.9"/>
<polygon points="227.47,245.43 225.67,248.67 229.27,248.67" fill="#9d1038" stroke="none" stroke-width="0"/>
<polygon points="229.45,239.32 227.65,242.56 231.25,242.56" fill="#9d1038" stroke="none" stroke-width="0"/>
<polygon points="233.41,229.18 231.61,232.42 235.21,232.42" fill="#9d1038" stroke="none" stroke-width="0"/>
<polygon points="241.31,214.64 239.51,217.88 243.11,217.88" fill="#9d1038" stroke="none" stroke-width="0"/>
<polygon points="257.12,197.46 255.32,200.70 258.93,200.70" fill="#9d1038" stroke="none" stroke-width="0"/>
<polygon points="288.75,181.31 286.95,184.55 290.55,184.55" fill="#9d1038" stroke="none" stroke-width="0"/>
<line x1="257.50" y1="199.41" x2="257.50" y2="196.61" stroke="#2e2e2e" stroke-width="1.2" />
<line x1="256.10" y1="196.61" x2="258.90" y2="196.61" stroke="#1a1a1a" stroke-width="1.4" />
<polygon points="294.10,211.58 291.30,216.62 296.90,216.62" fill="#9d1038" stroke="none" stroke-width="0"/>
<text x="299.20" y="217.00" font-size="7.5" text-anchor="start" fill="#404040" textLength="12.00" lengthAdjust="spacingAndGlyphs" >FXII</text>
<text x="298.20" y="226.20" font-size="7.5" text-anchor="start" fill="#404040" textLength="48.00" lengthAdjust="spacingAndGlyphs" >(K<tspan font-size='5' dy='1.5'>D</tspan><tspan dy='-1.5'> ~ 104 nM)</tspan></text>
<polygon points="294.40,235.20 296.80,237.60 294.40,240.00 292.00,237.60" fill="white" stroke="#2d4a72" stroke-width="1.1"/>
<text x="299.20" y="240.10" font-size="7.5" text-anchor="start" fill="#404040" textLength="40.00" lengthAdjust="spacingAndGlyphs" >prekallikrein</text>
<text x="298.20" y="249.00" font-size="7.5" text-anchor="start" fill="#404040" textLength="48.00" lengthAdjust="spacingAndGlyphs" >(K<tspan font-size='5' dy='1.5'>D</tspan><tspan dy='-1.5'> ~ 715 nM)</tspan></text>
<text x="7.00" y="307.40" font-size="11.2" text-anchor="start" fill="#111" font-weight="bold" stroke="#111" stroke-width="0.45" >E</text>
<line x1="48.25" y1="318.00" x2="179.20" y2="318.00" stroke="#1a1a1a" stroke-width="1.2" />
<line x1="178.60" y1="318.00" x2="178.60" y2="405.00" stroke="#1a1a1a" stroke-width="1.2" />
<line x1="49.00" y1="318.00" x2="49.00" y2="405.75" stroke="#1a1a1a" stroke-width="1.5" />
<line x1="49.00" y1="405.00" x2="179.20" y2="405.00" stroke="#1a1a1a" stroke-width="1.5" />
<line x1="49.00" y1="405.00" x2="49.00" y2="407.80" stroke="#1a1a1a" stroke-width="1.0" />
<line x1="70.60" y1="405.00" x2="70.60" y2="406.60" stroke="#1a1a1a" stroke-width="1.0" />
<line x1="92.20" y1="405.00" x2="92.20" y2="407.80" stroke="#1a1a1a" stroke-width="1.0" />
<line x1="113.80" y1="405.00" x2="113.80" y2="406.60" stroke="#1a1a1a" stroke-width="1.0" />
<line x1="135.40" y1="405.00" x2="135.40" y2="407.80" stroke="#1a1a1a" stroke-width="1.0" />
<line x1="157.00" y1="405.00" x2="157.00" y2="406.60" stroke="#1a1a1a" stroke-width="1.0" />
<line x1="178.60" y1="405.00" x2="178.60" y2="407.80" stroke="#1a1a1a" stroke-width="1.0" />
<text x="49.00" y="417.60" font-size="7.6" text-anchor="middle" fill="#383838" stroke="#383838" stroke-width="0.2" >0</text>
<text x="92.20" y="417.60" font-size="7.6" text-anchor="middle" fill="#383838" stroke="#383838" stroke-width="0.2" >20</text>
<text x="135.40" y="417.60" font-size="7.6" text-anchor="middle" fill="#383838" stroke="#383838" stroke-width="0.2" >40</text>
<text x="178.60" y="417.60" font-size="7.6" text-anchor="middle" fill="#383838" stroke="#383838" stroke-width="0.2" >60</text>
<line x1="46.00" y1="405.00" x2="49.00" y2="405.00" stroke="#1a1a1a" stroke-width="1.1" />
<text x="43.30" y="407.60" font-size="7.6" text-anchor="end" fill="#383838" stroke="#383838" stroke-width="0.2" >0</text>
<line x1="46.00" y1="383.25" x2="49.00" y2="383.25" stroke="#1a1a1a" stroke-width="1.1" />
<text x="43.30" y="385.85" font-size="7.6" text-anchor="end" fill="#383838" stroke="#383838" stroke-width="0.2" >0.05</text>
<line x1="46.00" y1="361.50" x2="49.00" y2="361.50" stroke="#1a1a1a" stroke-width="1.1" />
<text x="43.30" y="364.10" font-size="7.6" text-anchor="end" fill="#383838" stroke="#383838" stroke-width="0.2" >0.10</text>
<line x1="46.00" y1="339.75" x2="49.00" y2="339.75" stroke="#1a1a1a" stroke-width="1.1" />
<text x="43.30" y="342.35" font-size="7.6" text-anchor="end" fill="#383838" stroke="#383838" stroke-width="0.2" >0.15</text>
<line x1="46.00" y1="318.00" x2="49.00" y2="318.00" stroke="#1a1a1a" stroke-width="1.1" />
<text x="43.30" y="320.60" font-size="7.6" text-anchor="end" fill="#383838" stroke="#383838" stroke-width="0.2" >0.20</text>
<text x="96.00" y="431.50" font-size="9.3" text-anchor="start" fill="#333333" textLength="36.00" lengthAdjust="spacingAndGlyphs" stroke="#333333" stroke-width="0.3" >Time (min)</text>
<text x="22.20" y="361.30" font-size="9.3" text-anchor="middle" fill="#333333" textLength="56.50" lengthAdjust="spacingAndGlyphs" transform="rotate(-90 22.20 361.30)" stroke="#333333" stroke-width="0.3" >Absorbance (AU)</text>
<polyline points="49.00,403.12 49.50,402.94 50.00,403.43 50.50,402.85 51.00,403.30 51.50,403.12 52.00,402.80 52.50,403.24 53.00,402.77 53.50,403.15 54.00,402.78 54.50,402.79 55.00,403.12 55.50,403.51 56.00,402.80 56.50,402.89 57.00,403.28 57.50,403.59 58.00,403.21 58.50,403.02 59.00,403.60 59.50,402.66 60.00,403.46 60.50,402.88 61.00,402.73 61.50,402.69 62.00,402.87 62.50,403.37 63.00,402.73 63.50,403.12 64.00,403.17 64.50,402.89 65.00,403.06 65.50,402.56 66.00,402.55 66.50,402.69 67.00,403.15 67.50,402.89 68.00,402.77 68.50,403.03 69.00,402.89 69.50,402.73 70.00,403.21 70.50,403.11 71.00,402.65 71.50,402.97 72.00,402.91 72.50,403.25 73.00,403.10 73.50,402.64 74.00,403.33 74.50,402.46 75.00,402.75 75.50,403.08 76.00,402.46 76.50,402.79 77.00,402.33 77.50,402.95 78.00,403.04 78.50,402.84 79.00,403.13 79.50,402.56 80.00,402.93 80.50,402.82 81.00,402.80 81.50,402.67 82.00,403.04 82.50,403.14 83.00,402.66 83.50,402.84 84.00,402.23 84.50,402.86 85.00,402.80 85.50,403.13 86.00,402.95 86.50,402.41 87.00,402.50 87.50,402.77 88.00,402.12 88.50,402.55 89.00,402.24 89.50,402.18 90.00,402.12 90.50,402.82 91.00,402.17 91.50,402.28 92.00,402.41 92.50,402.88 93.00,402.08 93.50,402.44 94.00,402.54 94.50,402.86 95.00,402.79 95.50,402.82 96.00,402.23 96.50,402.36 97.00,402.29 97.50,402.81 98.00,402.87 98.50,402.06 99.00,402.07 99.50,402.12 100.00,402.11 100.50,402.35 101.00,402.45 101.50,402.11 102.00,401.85 102.50,402.25 103.00,402.19 103.50,402.38 104.00,402.76 104.50,402.49 105.00,402.30 105.50,402.40 106.00,402.44 106.50,401.81 107.00,402.65 107.50,402.52 108.00,402.61 108.50,402.52 109.00,402.11 109.50,402.10 110.00,401.80 110.50,402.32 111.00,401.74 111.50,401.74 112.00,401.87 112.50,401.81 113.00,401.98 113.50,401.69 114.00,401.62 114.50,401.77 115.00,401.71 115.50,401.96 116.00,401.61 116.50,402.45 117.00,402.18 117.50,401.71 118.00,401.80 118.50,401.89 119.00,401.90 119.50,401.65 120.00,402.36 120.50,402.50 121.00,401.96 121.50,401.97 122.00,401.56 122.50,401.57 123.00,401.80 123.50,401.72 124.00,402.27 124.50,401.60 125.00,401.45 125.50,402.37 126.00,401.93 126.50,401.54 127.00,401.93 127.50,401.41 128.00,401.90 128.50,402.34 129.00,402.22 129.50,402.04 130.00,401.60 130.50,401.69 131.00,401.48 131.50,402.08 132.00,401.83 132.50,402.07 133.00,401.61 133.50,401.49 134.00,402.07 134.50,402.24 135.00,402.10 135.50,402.04 136.00,402.04 136.50,401.96 137.00,401.43 137.50,401.72 138.00,401.55 138.50,401.21 139.00,401.20 139.50,401.44 140.00,401.41 140.50,401.84 141.00,402.09 141.50,401.57 142.00,402.05 142.50,402.10 143.00,402.05 143.50,401.45 144.00,401.30 144.50,401.30 145.00,401.26 145.50,401.26 146.00,401.67 146.50,401.94 147.00,401.87 147.50,401.50 148.00,401.66 148.50,401.80 149.00,401.08 149.50,401.64 150.00,401.88 150.50,401.75 151.00,401.70 151.50,401.42 152.00,401.11 152.50,401.72 153.00,401.25 153.50,401.71 154.00,401.87" fill="none" stroke="#35408a" stroke-width="1.5" stroke-linejoin="round" />
<polyline points="49.00,402.58 49.50,402.57 50.00,403.21 50.50,402.93 51.00,402.25 51.50,402.19 52.00,402.20 52.50,403.10 53.00,402.96 53.50,402.16 54.00,402.96 54.50,403.13 55.00,402.73 55.50,402.35 56.00,402.58 56.50,402.06 57.00,401.91 57.50,403.05 58.00,402.65 58.50,402.49 59.00,402.96 59.50,402.35 60.00,402.86 60.50,402.80 61.00,402.04 61.50,402.08 62.00,402.12 62.50,402.04 63.00,402.44 63.50,402.04 64.00,402.22 64.50,401.86 65.00,402.78 65.50,402.10 66.00,402.21 66.50,402.35 67.00,402.72 67.50,402.13 68.00,402.71 68.50,402.20 69.00,402.22 69.50,402.20 70.00,401.58 70.50,402.08 71.00,401.75 71.50,401.53 72.00,402.47 72.50,401.70 73.00,402.05 73.50,402.34 74.00,402.12 74.50,401.84 75.00,402.05 75.50,402.09 76.00,402.35 76.50,401.52 77.00,402.05 77.50,401.67 78.00,401.69 78.50,402.27 79.00,401.94 79.50,401.99 80.00,402.21 80.50,402.38 81.00,401.81 81.50,402.00 82.00,401.86 82.50,401.85 83.00,402.06 83.50,401.76 84.00,401.84 84.50,401.76 85.00,402.30 85.50,402.00 86.00,402.20 86.50,402.27 87.00,401.43 87.50,401.78 88.00,402.23 88.50,402.09 89.00,401.24 89.50,401.20 90.00,401.58 90.50,401.12 91.00,401.31 91.50,401.09 92.00,401.80 92.50,401.92 93.00,402.05 93.50,401.14 94.00,401.80 94.50,401.72 95.00,401.09 95.50,401.96 96.00,402.05 96.50,401.14 97.00,402.01 97.50,401.33 98.00,401.42 98.50,402.01 99.00,401.81 99.50,401.00 100.00,401.31 100.50,401.39 101.00,401.17 101.50,400.98 102.00,401.12 102.50,401.59 103.00,400.73 103.50,401.36 104.00,401.21 104.50,400.69 105.00,401.06 105.50,401.40 106.00,401.25 106.50,400.70 107.00,401.79 107.50,401.54 108.00,401.75 108.50,400.70 109.00,400.88 109.50,400.59 110.00,401.47 110.50,400.84 111.00,400.66 111.50,401.00 112.00,401.57 112.50,401.45 113.00,400.76 113.50,400.62 114.00,401.53 114.50,401.10 115.00,401.24 115.50,400.50 116.00,400.45 116.50,401.19 117.00,400.86 117.50,400.43 118.00,401.45 118.50,401.07 119.00,401.26 119.50,400.39 120.00,401.30 120.50,400.34 121.00,401.28 121.50,400.78 122.00,400.63 122.50,400.87 123.00,401.31 123.50,400.51 124.00,400.33 124.50,400.79 125.00,400.43 125.50,400.26 126.00,400.31 126.50,400.17 127.00,400.34 127.50,400.46 128.00,400.43 128.50,400.97 129.00,400.39 129.50,400.63 130.00,400.23 130.50,400.42 131.00,400.01 131.50,400.28 132.00,399.98 132.50,400.83 133.00,400.60 133.50,400.15 134.00,400.48 134.50,401.02 135.00,400.02 135.50,400.86 136.00,400.38 136.50,400.44 137.00,400.84 137.50,400.30 138.00,400.42 138.50,400.62 139.00,400.96 139.50,400.18 140.00,400.76 140.50,400.60 141.00,400.50 141.50,400.21 142.00,400.13 142.50,399.76 143.00,399.84 143.50,399.75 144.00,400.55 144.50,399.95 145.00,399.83 145.50,399.72 146.00,400.62 146.50,400.64 147.00,400.38 147.50,399.91 148.00,399.84 148.50,399.89 149.00,400.08 149.50,399.70 150.00,400.04 150.50,399.81 151.00,400.63 151.50,400.63 152.00,400.11 152.50,399.73 153.00,400.58 153.50,399.78 154.00,399.83" fill="none" stroke="#7a2a78" stroke-width="1.5" stroke-linejoin="round" />
<polyline points="49.00,401.60 49.50,402.04 50.00,402.14 50.50,402.15 51.00,401.78 51.50,402.12 52.00,401.51 52.50,401.80 53.00,401.58 53.50,401.93 54.00,401.49 54.50,401.45 55.00,401.77 55.50,401.67 56.00,402.08 56.50,401.99 57.00,402.24 57.50,402.11 58.00,402.17 58.50,402.35 59.00,401.74 59.50,401.65 60.00,402.43 60.50,401.41 61.00,402.08 61.50,401.97 62.00,401.23 62.50,402.17 63.00,402.22 63.50,401.88 64.00,401.99 64.50,402.07 65.00,401.25 65.50,401.69 66.00,401.65 66.50,402.04 67.00,401.98 67.50,401.99 68.00,401.69 68.50,402.04 69.00,401.77 69.50,401.77 70.00,401.20 70.50,400.94 71.00,401.05 71.50,401.30 72.00,400.98 72.50,401.84 73.00,401.49 73.50,401.56 74.00,401.54 74.50,401.59 75.00,401.35 75.50,400.75 76.00,401.68 76.50,401.61 77.00,401.30 77.50,401.32 78.00,401.45 78.50,400.72 79.00,401.51 79.50,400.92 80.00,400.69 80.50,400.90 81.00,401.44 81.50,400.79 82.00,401.42 82.50,401.69 83.00,401.09 83.50,400.94 84.00,401.04 84.50,401.27 85.00,401.35 85.50,401.16 86.00,401.17 86.50,400.48 87.00,400.55 87.50,400.66 88.00,401.23 88.50,400.69 89.00,400.99 89.50,400.30 90.00,400.35 90.50,400.58 91.00,401.05 91.50,401.05 92.00,401.02 92.50,400.54 93.00,400.80 93.50,400.72 94.00,400.70 94.50,400.27 95.00,401.18 95.50,400.33 96.00,401.25 96.50,401.19 97.00,400.07 97.50,400.58 98.00,401.00 98.50,401.16 99.00,400.52 99.50,400.29 100.00,400.20 100.50,401.07 101.00,400.17 101.50,400.60 102.00,400.05 102.50,400.50 103.00,400.99 103.50,399.99 104.00,400.80 104.50,400.41 105.00,400.85 105.50,400.61 106.00,400.03 106.50,400.82 107.00,400.31 107.50,399.74 108.00,399.69 108.50,400.26 109.00,400.20 109.50,400.00 110.00,399.79 110.50,400.02 111.00,399.97 111.50,400.58 112.00,399.56 112.50,400.44 113.00,400.53 113.50,399.66 114.00,400.61 114.50,400.33 115.00,400.54 115.50,399.79 116.00,399.88 116.50,399.89 117.00,400.60 117.50,400.09 118.00,399.80 118.50,399.86 119.00,399.66 119.50,399.38 120.00,399.42 120.50,400.29 121.00,399.61 121.50,400.38 122.00,399.54 122.50,399.54 123.00,399.82 123.50,399.42 124.00,399.62 124.50,400.30 125.00,400.20 125.50,400.10 126.00,399.86 126.50,400.19 127.00,400.20 127.50,399.72 128.00,399.91 128.50,399.09 129.00,399.89 129.50,399.53 130.00,399.88 130.50,399.73 131.00,399.29 131.50,398.99 132.00,400.02 132.50,399.05 133.00,399.45 133.50,399.28 134.00,399.20 134.50,399.72 135.00,399.99 135.50,399.11 136.00,399.57 136.50,399.13 137.00,399.42 137.50,399.21 138.00,398.92 138.50,398.90 139.00,398.94 139.50,399.76 140.00,399.25 140.50,398.90 141.00,399.71 141.50,399.80 142.00,399.13 142.50,398.74 143.00,398.79 143.50,398.65 144.00,398.93 144.50,398.62 145.00,398.78 145.50,398.79 146.00,399.14 146.50,399.51 147.00,399.33 147.50,398.91 148.00,398.89 148.50,399.01 149.00,398.81 149.50,398.75 150.00,398.40 150.50,398.65 151.00,399.46 151.50,398.43 152.00,398.87 152.50,399.00 153.00,399.27 153.50,398.48 154.00,398.53" fill="none" stroke="#9a2050" stroke-width="1.4" stroke-linejoin="round" />
<polyline points="49.00,401.25 49.50,401.44 50.00,401.48 50.50,402.18 51.00,402.01 51.50,402.02 52.00,400.81 52.50,400.81 53.00,401.73 53.50,401.97 54.00,401.36 54.50,401.50 55.00,400.66 55.50,401.19 56.00,401.92 56.50,401.76 57.00,401.78 57.50,401.92 58.00,400.89 58.50,400.67 59.00,400.72 59.50,401.21 60.00,401.41 60.50,401.76 61.00,401.43 61.50,401.31 62.00,401.45 62.50,401.00 63.00,401.11 63.50,400.38 64.00,401.40 64.50,400.61 65.00,401.55 65.50,401.14 66.00,400.65 66.50,400.38 67.00,400.53 67.50,401.05 68.00,401.12 68.50,400.28 69.00,400.20 69.50,400.81 70.00,400.88 70.50,400.58 71.00,400.33 71.50,400.84 72.00,399.99 72.50,400.38 73.00,400.58 73.50,401.26 74.00,400.80 74.50,401.12 75.00,400.53 75.50,400.17 76.00,400.17 76.50,401.14 77.00,400.77 77.50,400.19 78.00,399.77 78.50,400.42 79.00,400.64 79.50,400.27 80.00,400.02 80.50,400.57 81.00,400.92 81.50,399.92 82.00,399.63 82.50,400.03 83.00,400.13 83.50,400.48 84.00,399.78 84.50,400.60 85.00,400.49 85.50,400.15 86.00,399.71 86.50,400.76 87.00,399.82 87.50,400.51 88.00,399.66 88.50,399.63 89.00,400.36 89.50,399.69 90.00,400.59 90.50,399.93 91.00,399.48 91.50,399.51 92.00,399.76 92.50,400.09 93.00,400.47 93.50,399.32 94.00,399.65 94.50,399.38 95.00,400.42 95.50,399.24 96.00,399.09 96.50,399.08 97.00,399.53 97.50,400.22 98.00,400.18 98.50,399.95 99.00,400.30 99.50,400.18 100.00,399.32 100.50,399.10 101.00,400.13 101.50,399.84 102.00,398.82 102.50,399.69 103.00,399.27 103.50,399.24 104.00,399.16 104.50,398.92 105.00,398.66 105.50,399.03 106.00,399.11 106.50,399.94 107.00,398.75 107.50,399.91 108.00,398.83 108.50,399.02 109.00,399.65 109.50,399.63 110.00,399.07 110.50,398.51 111.00,399.08 111.50,398.92 112.00,399.67 112.50,398.63 113.00,398.85 113.50,399.58 114.00,398.34 114.50,398.86 115.00,399.40 115.50,399.31 116.00,398.28 116.50,398.25 117.00,398.27 117.50,399.45 118.00,398.50 118.50,399.17 119.00,399.36 119.50,398.55 120.00,398.44 120.50,399.38 121.00,398.88 121.50,398.37 122.00,398.98 122.50,398.40 123.00,398.33 123.50,397.93 124.00,398.96 124.50,399.16 125.00,398.75 125.50,399.16 126.00,397.85 126.50,398.13 127.00,398.45 127.50,399.10 128.00,399.08 128.50,398.26 129.00,398.05 129.50,398.28 130.00,398.35 130.50,398.94 131.00,397.88 131.50,398.72 132.00,398.61 132.50,398.71 133.00,398.62 133.50,398.37 134.00,397.96 134.50,397.93 135.00,397.97 135.50,398.54 136.00,397.53 136.50,397.68 137.00,398.43 137.50,397.71 138.00,397.43 138.50,397.37 139.00,398.07 139.50,397.74 140.00,398.63 140.50,398.48 141.00,398.60 141.50,397.57 142.00,397.30 142.50,397.29 143.00,397.84 143.50,398.11 144.00,397.73 144.50,397.41 145.00,397.64 145.50,397.91 146.00,397.96 146.50,398.05 147.00,398.17 147.50,397.89 148.00,397.11 148.50,398.10 149.00,397.31 149.50,397.67 150.00,397.38 150.50,397.87 151.00,397.10 151.50,397.15 152.00,397.12 152.50,396.97 153.00,397.98 153.50,397.53 154.00,397.16" fill="none" stroke="#565e52" stroke-width="1.3" stroke-linejoin="round" />
<line x1="54.80" y1="325.60" x2="64.40" y2="325.60" stroke="#a03a55" stroke-width="1.4" />
<text x="68.00" y="328.20" font-size="7.5" text-anchor="start" fill="#404040" textLength="44.30" lengthAdjust="spacingAndGlyphs" >FXII (200 nM)</text>
<line x1="54.80" y1="335.30" x2="64.40" y2="335.30" stroke="#cdbfb0" stroke-width="1.4" />
<text x="68.00" y="337.90" font-size="7.5" text-anchor="start" fill="#404040" textLength="64.10" lengthAdjust="spacingAndGlyphs" >+ PGN (100 ug/mL)</text>
<line x1="54.80" y1="345.20" x2="64.40" y2="345.20" stroke="#4f7574" stroke-width="1.4" />
<text x="68.00" y="347.80" font-size="7.5" text-anchor="start" fill="#404040" textLength="60.20" lengthAdjust="spacingAndGlyphs" >+ PGN (10 ug/mL)</text>
<line x1="54.80" y1="355.40" x2="64.40" y2="355.40" stroke="#3f5f8f" stroke-width="1.4" />
<text x="68.00" y="358.00" font-size="7.5" text-anchor="start" fill="#404040" textLength="55.40" lengthAdjust="spacingAndGlyphs" >+ PGN (1 ug/mL)</text>
<line x1="54.80" y1="366.00" x2="64.40" y2="366.00" stroke="#6a3462" stroke-width="1.4" />
<text x="68.00" y="368.60" font-size="7.5" text-anchor="start" fill="#404040" textLength="61.20" lengthAdjust="spacingAndGlyphs" >+ PGN (0.1 ug/mL)</text>
<text x="192.90" y="304.50" font-size="11.2" text-anchor="start" fill="#111" font-weight="bold" stroke="#111" stroke-width="0.45" >F</text>
<line x1="224.85" y1="315.00" x2="361.30" y2="315.00" stroke="#1a1a1a" stroke-width="1.2" />
<line x1="360.70" y1="315.00" x2="360.70" y2="405.40" stroke="#1a1a1a" stroke-width="1.2" />
<line x1="225.60" y1="315.00" x2="225.60" y2="356.80" stroke="#1a1a1a" stroke-width="1.5" />
<line x1="225.60" y1="356.60" x2="224.50" y2="358.80" stroke="#1a1a1a" stroke-width="1.2" />
<line x1="224.50" y1="360.20" x2="225.60" y2="361.40" stroke="#1a1a1a" stroke-width="1.2" />
<line x1="225.60" y1="361.20" x2="225.60" y2="406.15" stroke="#1a1a1a" stroke-width="1.5" />
<line x1="225.60" y1="405.40" x2="361.30" y2="405.40" stroke="#1a1a1a" stroke-width="1.5" />
<line x1="225.60" y1="405.40" x2="225.60" y2="408.20" stroke="#1a1a1a" stroke-width="1.0" />
<line x1="242.10" y1="405.40" x2="242.10" y2="407.00" stroke="#1a1a1a" stroke-width="1.0" />
<line x1="258.60" y1="405.40" x2="258.60" y2="408.20" stroke="#1a1a1a" stroke-width="1.0" />
<line x1="275.10" y1="405.40" x2="275.10" y2="407.00" stroke="#1a1a1a" stroke-width="1.0" />
<line x1="291.60" y1="405.40" x2="291.60" y2="408.20" stroke="#1a1a1a" stroke-width="1.0" />
<line x1="308.10" y1="405.40" x2="308.10" y2="407.00" stroke="#1a1a1a" stroke-width="1.0" />
<line x1="324.60" y1="405.40" x2="324.60" y2="408.20" stroke="#1a1a1a" stroke-width="1.0" />
<line x1="341.10" y1="405.40" x2="341.10" y2="407.00" stroke="#1a1a1a" stroke-width="1.0" />
<line x1="357.60" y1="405.40" x2="357.60" y2="408.20" stroke="#1a1a1a" stroke-width="1.0" />
<text x="225.60" y="418.00" font-size="7.6" text-anchor="middle" fill="#383838" stroke="#383838" stroke-width="0.2" >0</text>
<text x="258.60" y="418.00" font-size="7.6" text-anchor="middle" fill="#383838" stroke="#383838" stroke-width="0.2" >50</text>
<text x="291.60" y="418.00" font-size="7.6" text-anchor="middle" fill="#383838" stroke="#383838" stroke-width="0.2" >100</text>
<text x="324.60" y="418.00" font-size="7.6" text-anchor="middle" fill="#383838" stroke="#383838" stroke-width="0.2" >150</text>
<text x="357.60" y="418.00" font-size="7.6" text-anchor="middle" fill="#383838" stroke="#383838" stroke-width="0.2" >200</text>
<line x1="222.60" y1="315.00" x2="225.60" y2="315.00" stroke="#1a1a1a" stroke-width="1.1" />
<text x="219.60" y="317.60" font-size="7.6" text-anchor="end" fill="#383838" stroke="#383838" stroke-width="0.2" >12</text>
<line x1="222.60" y1="328.00" x2="225.60" y2="328.00" stroke="#1a1a1a" stroke-width="1.1" />
<text x="219.60" y="330.60" font-size="7.6" text-anchor="end" fill="#383838" stroke="#383838" stroke-width="0.2" >10</text>
<line x1="222.60" y1="341.00" x2="225.60" y2="341.00" stroke="#1a1a1a" stroke-width="1.1" />
<text x="219.60" y="343.60" font-size="7.6" text-anchor="end" fill="#383838" stroke="#383838" stroke-width="0.2" >8</text>
<line x1="222.60" y1="354.00" x2="225.60" y2="354.00" stroke="#1a1a1a" stroke-width="1.1" />
<text x="219.60" y="356.60" font-size="7.6" text-anchor="end" fill="#383838" stroke="#383838" stroke-width="0.2" >6</text>
<line x1="222.60" y1="363.00" x2="225.60" y2="363.00" stroke="#1a1a1a" stroke-width="1.1" />
<text x="219.60" y="365.60" font-size="7.6" text-anchor="end" fill="#383838" stroke="#383838" stroke-width="0.2" >1.6</text>
<line x1="222.60" y1="384.20" x2="225.60" y2="384.20" stroke="#1a1a1a" stroke-width="1.1" />
<text x="219.60" y="386.80" font-size="7.6" text-anchor="end" fill="#383838" stroke="#383838" stroke-width="0.2" >1.2</text>
<line x1="222.60" y1="405.40" x2="225.60" y2="405.40" stroke="#1a1a1a" stroke-width="1.1" />
<text x="219.60" y="408.00" font-size="7.6" text-anchor="end" fill="#383838" stroke="#383838" stroke-width="0.2" >0.8</text>
<line x1="223.80" y1="394.80" x2="225.60" y2="394.80" stroke="#1a1a1a" stroke-width="1.0" />
<line x1="223.80" y1="373.60" x2="225.60" y2="373.60" stroke="#1a1a1a" stroke-width="1.0" />
<text x="247.80" y="431.40" font-size="9.3" text-anchor="start" fill="#333333" textLength="91.80" lengthAdjust="spacingAndGlyphs" stroke="#333333" stroke-width="0.3" >PGN concentration (μg/mL)</text>
<text x="201.20" y="358.10" font-size="9.3" text-anchor="middle" fill="#333333" textLength="61.00" lengthAdjust="spacingAndGlyphs" transform="rotate(-90 201.20 358.10)" stroke="#333333" stroke-width="0.3" >Enzyme activity (V<tspan font-size='6' dy='1.5'>0</tspan><tspan dy='-1.5'>)</tspan></text>
<polyline points="225.60,348.17 230.01,347.37 234.41,346.56 238.82,345.76 243.23,344.96 247.63,344.17 252.04,343.37 256.45,342.58 260.85,341.79 265.26,341.00 269.67,340.22 274.07,339.44 278.48,338.66 282.89,337.88 287.29,337.10 291.70,336.33 296.11,335.56 300.51,334.79 304.92,334.02 309.33,333.26 313.73,332.49 318.14,331.73 322.55,330.98 326.95,330.22 331.36,329.47 335.77,328.72 340.17,327.97 344.58,327.22 348.99,326.48 353.39,325.74 357.80,325.00" fill="none" stroke="#2d4a72" stroke-width="1.7" stroke-linejoin="round" />
<polyline points="225.60,342.74 230.08,342.16 234.57,341.56 239.05,340.95 243.53,340.32 248.02,339.68 252.50,339.01 256.98,338.33 261.47,337.64 265.95,336.92 270.43,336.19 274.92,335.44 279.40,334.67 283.88,333.89 288.37,333.09 292.85,332.27 297.33,331.44 301.82,330.59 306.30,329.72 310.78,328.83 315.27,327.93 319.75,327.01 324.23,326.07 328.72,325.11 333.20,324.14 337.68,323.15 342.17,322.14 346.65,321.12 351.13,320.08 355.62,319.02 360.10,317.95" fill="none" stroke="#2d4a72" stroke-width="1.2" stroke-linejoin="round" stroke-dasharray="2.6,1.6"/>
<polyline points="225.60,350.95 230.08,350.10 234.57,349.25 239.05,348.42 243.53,347.61 248.02,346.80 252.50,346.00 256.98,345.22 261.47,344.44 265.95,343.68 270.43,342.93 274.92,342.19 279.40,341.46 283.88,340.74 288.37,340.03 292.85,339.33 297.33,338.65 301.82,337.98 306.30,337.31 310.78,336.66 315.27,336.02 319.75,335.39 324.23,334.77 328.72,334.17 333.20,333.57 337.68,332.99 342.17,332.41 346.65,331.85 351.13,331.30 355.62,330.76 360.10,330.23" fill="none" stroke="#2d4a72" stroke-width="1.2" stroke-linejoin="round" stroke-dasharray="2.6,1.6"/>
<line x1="225.50" y1="352.00" x2="225.50" y2="346.00" stroke="#2e2e2e" stroke-width="1.2" />
<line x1="224.10" y1="346.00" x2="226.90" y2="346.00" stroke="#1a1a1a" stroke-width="1.4" />
<circle cx="225.60" cy="349.00" r="2.2" fill="#c3cde0" stroke="#2d4a72" stroke-width="1.2"/>
<line x1="230.50" y1="349.70" x2="230.50" y2="346.70" stroke="#2e2e2e" stroke-width="1.2" />
<line x1="229.10" y1="346.70" x2="231.90" y2="346.70" stroke="#1a1a1a" stroke-width="1.4" />
<circle cx="230.88" cy="348.20" r="2.2" fill="#c3cde0" stroke="#2d4a72" stroke-width="1.2"/>
<line x1="242.50" y1="347.80" x2="242.50" y2="340.80" stroke="#2e2e2e" stroke-width="1.2" />
<line x1="241.10" y1="340.80" x2="243.90" y2="340.80" stroke="#1a1a1a" stroke-width="1.4" />
<circle cx="242.10" cy="344.30" r="2.2" fill="#c3cde0" stroke="#2d4a72" stroke-width="1.2"/>
<line x1="258.50" y1="341.00" x2="258.50" y2="335.40" stroke="#2e2e2e" stroke-width="1.2" />
<line x1="257.10" y1="335.40" x2="259.90" y2="335.40" stroke="#1a1a1a" stroke-width="1.4" />
<circle cx="258.60" cy="338.20" r="2.2" fill="#c3cde0" stroke="#2d4a72" stroke-width="1.2"/>
<line x1="291.50" y1="333.60" x2="291.50" y2="326.80" stroke="#2e2e2e" stroke-width="1.2" />
<line x1="290.10" y1="326.80" x2="292.90" y2="326.80" stroke="#1a1a1a" stroke-width="1.4" />
<circle cx="291.60" cy="330.20" r="2.2" fill="#c3cde0" stroke="#2d4a72" stroke-width="1.2"/>
<line x1="324.50" y1="334.90" x2="324.50" y2="325.50" stroke="#2e2e2e" stroke-width="1.2" />
<line x1="323.10" y1="325.50" x2="325.90" y2="325.50" stroke="#1a1a1a" stroke-width="1.4" />
<circle cx="324.60" cy="330.20" r="2.2" fill="#c3cde0" stroke="#2d4a72" stroke-width="1.2"/>
<line x1="357.50" y1="329.80" x2="357.50" y2="324.60" stroke="#2e2e2e" stroke-width="1.2" />
<line x1="356.10" y1="324.60" x2="358.90" y2="324.60" stroke="#1a1a1a" stroke-width="1.4" />
<circle cx="357.60" cy="327.20" r="2.2" fill="#c3cde0" stroke="#2d4a72" stroke-width="1.2"/>
<circle cx="231.10" cy="322.50" r="2.5" fill="#c3cde0" stroke="#2d4a72" stroke-width="1.2"/>
<text x="235.60" y="325.00" font-size="7.5" text-anchor="start" fill="#404040" textLength="19.00" lengthAdjust="spacingAndGlyphs" >α-Kal.</text>
<polyline points="225.60,395.30 230.01,394.08 234.41,392.88 238.82,391.69 243.23,390.51 247.63,389.35 252.04,388.19 256.45,387.05 260.85,385.93 265.26,384.81 269.67,383.71 274.07,382.62 278.48,381.55 282.89,380.49 287.29,379.44 291.70,378.40 296.11,377.38 300.51,376.37 304.92,375.37 309.33,374.38 313.73,373.41 318.14,372.45 322.55,371.51 326.95,370.57 331.36,369.65 335.77,368.75 340.17,367.85 344.58,366.97 348.99,366.10 353.39,365.24 357.80,364.40" fill="none" stroke="#9d1038" stroke-width="1.8" stroke-linejoin="round" />
<polyline points="225.60,392.70 229.78,391.62 233.96,390.54 238.14,389.46 242.32,388.38 246.50,387.31 250.68,386.24 254.86,385.17 259.04,384.10 263.22,383.04 267.40,381.98 271.58,380.92 275.76,379.86 279.94,378.81 284.12,377.75 288.30,376.70 292.48,375.66 296.66,374.61 300.84,373.57 305.02,372.53 309.20,371.49 313.38,370.45 317.56,369.42 321.74,368.39 325.92,367.36 330.10,366.33 334.28,365.31 338.46,364.29 342.64,363.27 346.82,362.25 351.00,361.23" fill="none" stroke="#9d1038" stroke-width="1.2" stroke-linejoin="round" stroke-dasharray="2.4,1.4"/>
<polyline points="225.60,398.00 230.01,396.91 234.41,395.82 238.82,394.74 243.23,393.67 247.63,392.60 252.04,391.54 256.45,390.49 260.85,389.44 265.26,388.40 269.67,387.37 274.07,386.34 278.48,385.32 282.89,384.30 287.29,383.29 291.70,382.29 296.11,381.29 300.51,380.30 304.92,379.32 309.33,378.34 313.73,377.37 318.14,376.40 322.55,375.44 326.95,374.49 331.36,373.54 335.77,372.60 340.17,371.67 344.58,370.74 348.99,369.82 353.39,368.91 357.80,368.00" fill="none" stroke="#9d1038" stroke-width="1.2" stroke-linejoin="round" stroke-dasharray="2.4,1.4"/>
<rect x="223.30" y="391.20" width="4.60" height="4.60" fill="#9d1038" />
<rect x="223.30" y="395.00" width="4.60" height="4.60" fill="#9d1038" />
<rect x="229.90" y="396.50" width="4.60" height="4.60" fill="#9d1038" />
<rect x="239.80" y="389.60" width="4.60" height="4.60" fill="#9d1038" />
<rect x="239.80" y="391.30" width="4.60" height="4.60" fill="#9d1038" />
<rect x="256.30" y="385.00" width="4.60" height="4.60" fill="#9d1038" />
<rect x="289.30" y="375.50" width="4.60" height="4.60" fill="#9d1038" />
<rect x="322.30" y="371.10" width="4.60" height="4.60" fill="#9d1038" />
<rect x="355.30" y="362.10" width="4.60" height="4.60" fill="#9d1038" />
<rect x="323.00" y="395.40" width="5.00" height="5.00" fill="#9d1038" />
<text x="331.00" y="400.50" font-size="7.5" text-anchor="start" fill="#404040" textLength="24.00" lengthAdjust="spacingAndGlyphs" >α-FXIIa</text>
<text x="364.20" y="117.30" font-size="11.2" text-anchor="start" fill="#111" font-weight="bold" stroke="#111" stroke-width="0.45" >G</text>
<line x1="392.45" y1="127.80" x2="513.10" y2="127.80" stroke="#1a1a1a" stroke-width="1.2" />
<line x1="512.50" y1="127.80" x2="512.50" y2="307.00" stroke="#1a1a1a" stroke-width="1.2" />
<line x1="393.20" y1="127.80" x2="393.20" y2="307.75" stroke="#1a1a1a" stroke-width="1.5" />
<line x1="393.20" y1="307.00" x2="513.10" y2="307.00" stroke="#1a1a1a" stroke-width="1.5" />
<line x1="390.20" y1="307.00" x2="393.20" y2="307.00" stroke="#1a1a1a" stroke-width="1.0" />
<line x1="391.60" y1="295.05" x2="393.20" y2="295.05" stroke="#1a1a1a" stroke-width="1.0" />
<line x1="391.60" y1="283.10" x2="393.20" y2="283.10" stroke="#1a1a1a" stroke-width="1.0" />
<line x1="391.60" y1="271.15" x2="393.20" y2="271.15" stroke="#1a1a1a" stroke-width="1.0" />
<line x1="391.60" y1="259.20" x2="393.20" y2="259.20" stroke="#1a1a1a" stroke-width="1.0" />
<line x1="390.20" y1="247.25" x2="393.20" y2="247.25" stroke="#1a1a1a" stroke-width="1.0" />
<line x1="391.60" y1="235.30" x2="393.20" y2="235.30" stroke="#1a1a1a" stroke-width="1.0" />
<line x1="391.60" y1="223.35" x2="393.20" y2="223.35" stroke="#1a1a1a" stroke-width="1.0" />
<line x1="391.60" y1="211.40" x2="393.20" y2="211.40" stroke="#1a1a1a" stroke-width="1.0" />
<line x1="391.60" y1="199.45" x2="393.20" y2="199.45" stroke="#1a1a1a" stroke-width="1.0" />
<line x1="390.20" y1="187.50" x2="393.20" y2="187.50" stroke="#1a1a1a" stroke-width="1.0" />
<line x1="391.60" y1="175.55" x2="393.20" y2="175.55" stroke="#1a1a1a" stroke-width="1.0" />
<line x1="391.60" y1="163.60" x2="393.20" y2="163.60" stroke="#1a1a1a" stroke-width="1.0" />
<line x1="391.60" y1="151.65" x2="393.20" y2="151.65" stroke="#1a1a1a" stroke-width="1.0" />
<line x1="391.60" y1="139.70" x2="393.20" y2="139.70" stroke="#1a1a1a" stroke-width="1.0" />
<line x1="390.20" y1="127.75" x2="393.20" y2="127.75" stroke="#1a1a1a" stroke-width="1.0" />
<text x="388.00" y="309.60" font-size="7.6" text-anchor="end" fill="#383838" stroke="#383838" stroke-width="0.2" >0</text>
<text x="388.00" y="249.85" font-size="7.6" text-anchor="end" fill="#383838" stroke="#383838" stroke-width="0.2" >5</text>
<text x="388.00" y="190.10" font-size="7.6" text-anchor="end" fill="#383838" stroke="#383838" stroke-width="0.2" >10</text>
<text x="388.00" y="130.35" font-size="7.6" text-anchor="end" fill="#383838" stroke="#383838" stroke-width="0.2" >15</text>
<line x1="398.33" y1="307.00" x2="398.33" y2="308.60" stroke="#1a1a1a" stroke-width="1.0" />
<line x1="404.71" y1="307.00" x2="404.71" y2="308.60" stroke="#1a1a1a" stroke-width="1.0" />
<line x1="409.65" y1="307.00" x2="409.65" y2="308.60" stroke="#1a1a1a" stroke-width="1.0" />
<line x1="413.69" y1="307.00" x2="413.69" y2="308.60" stroke="#1a1a1a" stroke-width="1.0" />
<line x1="417.10" y1="307.00" x2="417.10" y2="308.60" stroke="#1a1a1a" stroke-width="1.0" />
<line x1="420.06" y1="307.00" x2="420.06" y2="308.60" stroke="#1a1a1a" stroke-width="1.0" />
<line x1="422.67" y1="307.00" x2="422.67" y2="308.60" stroke="#1a1a1a" stroke-width="1.0" />
<line x1="425.00" y1="307.00" x2="425.00" y2="310.00" stroke="#1a1a1a" stroke-width="1.0" />
<line x1="440.35" y1="307.00" x2="440.35" y2="308.60" stroke="#1a1a1a" stroke-width="1.0" />
<line x1="449.33" y1="307.00" x2="449.33" y2="308.60" stroke="#1a1a1a" stroke-width="1.0" />
<line x1="455.71" y1="307.00" x2="455.71" y2="308.60" stroke="#1a1a1a" stroke-width="1.0" />
<line x1="460.65" y1="307.00" x2="460.65" y2="308.60" stroke="#1a1a1a" stroke-width="1.0" />
<line x1="464.69" y1="307.00" x2="464.69" y2="308.60" stroke="#1a1a1a" stroke-width="1.0" />
<line x1="468.10" y1="307.00" x2="468.10" y2="308.60" stroke="#1a1a1a" stroke-width="1.0" />
<line x1="471.06" y1="307.00" x2="471.06" y2="308.60" stroke="#1a1a1a" stroke-width="1.0" />
<line x1="473.67" y1="307.00" x2="473.67" y2="308.60" stroke="#1a1a1a" stroke-width="1.0" />
<line x1="476.00" y1="307.00" x2="476.00" y2="310.00" stroke="#1a1a1a" stroke-width="1.0" />
<line x1="491.35" y1="307.00" x2="491.35" y2="308.60" stroke="#1a1a1a" stroke-width="1.0" />
<line x1="500.33" y1="307.00" x2="500.33" y2="308.60" stroke="#1a1a1a" stroke-width="1.0" />
<line x1="506.71" y1="307.00" x2="506.71" y2="308.60" stroke="#1a1a1a" stroke-width="1.0" />
<line x1="511.65" y1="307.00" x2="511.65" y2="308.60" stroke="#1a1a1a" stroke-width="1.0" />
<text x="425.30" y="319.00" font-size="7.6" text-anchor="middle" fill="#383838" stroke="#383838" stroke-width="0.2" >100</text>
<text x="476.60" y="319.00" font-size="7.6" text-anchor="middle" fill="#383838" stroke="#383838" stroke-width="0.2" >100</text>
<text x="416.40" y="332.70" font-size="9.3" text-anchor="start" fill="#333333" textLength="73.80" lengthAdjust="spacingAndGlyphs" stroke="#333333" stroke-width="0.3" >AT concentration (nM)</text>
<text x="373.00" y="216.00" font-size="9.3" text-anchor="middle" fill="#333333" textLength="94.00" lengthAdjust="spacingAndGlyphs" transform="rotate(-90 373.00 216.00)" stroke="#333333" stroke-width="0.3" >FXIIa activity (μM pNA/min)</text>
<path d="M408.30,156.60 C411.02,158.92 420.48,165.93 424.60,170.50 C428.72,175.07 430.35,179.08 433.00,184.00 C435.65,188.92 437.50,193.33 440.50,200.00 C443.50,206.67 447.55,216.50 451.00,224.00 C454.45,231.50 458.28,239.17 461.20,245.00 C464.12,250.83 466.02,254.75 468.50,259.00 C470.98,263.25 473.52,266.83 476.10,270.50 C478.68,274.17 481.38,277.78 484.00,281.00 C486.62,284.22 490.50,288.33 491.80,289.80" fill="none" stroke="#9c0c36" stroke-width="1.9" stroke-linejoin="round" />
<path d="M408.90,139.50 C410.17,142.17 413.88,149.92 416.50,155.50 C419.12,161.08 422.02,166.25 424.60,173.00 C427.18,179.75 429.43,188.25 432.00,196.00 C434.57,203.75 437.00,211.67 440.00,219.50 C443.00,227.33 446.47,235.58 450.00,243.00 C453.53,250.42 458.12,258.50 461.20,264.00 C464.28,269.50 466.02,272.33 468.50,276.00 C470.98,279.67 473.52,283.00 476.10,286.00 C478.68,289.00 481.38,291.83 484.00,294.00 C486.62,296.17 490.50,298.17 491.80,299.00" fill="none" stroke="#70ad40" stroke-width="1.9" stroke-linejoin="round" />
<path d="M408.90,145.40 C410.17,148.33 413.88,156.82 416.50,163.00 C419.12,169.18 422.02,175.33 424.60,182.50 C427.18,189.67 429.43,198.30 432.00,206.00 C434.57,213.70 437.00,220.70 440.00,228.70 C443.00,236.70 446.47,246.70 450.00,254.00 C453.53,261.30 458.12,267.58 461.20,272.50 C464.28,277.42 466.02,280.50 468.50,283.50 C470.98,286.50 473.52,288.67 476.10,290.50 C478.68,292.33 481.38,293.50 484.00,294.50 C486.62,295.50 490.50,296.17 491.80,296.50" fill="none" stroke="#26477a" stroke-width="1.9" stroke-linejoin="round" />
<circle cx="408.90" cy="145.60" r="3.1" fill="#26477a" stroke="none" stroke-width="0"/>
<circle cx="424.60" cy="182.40" r="3.1" fill="#26477a" stroke="none" stroke-width="0"/>
<circle cx="440.20" cy="228.70" r="3.1" fill="#26477a" stroke="none" stroke-width="0"/>
<circle cx="461.20" cy="274.80" r="3.1" fill="#26477a" stroke="none" stroke-width="0"/>
<circle cx="476.10" cy="291.00" r="3.1" fill="#26477a" stroke="none" stroke-width="0"/>
<circle cx="491.80" cy="294.30" r="3.1" fill="#26477a" stroke="none" stroke-width="0"/>
<rect x="405.80" y="135.20" width="6.00" height="6.00" fill="#9c0c36" />
<rect x="421.60" y="164.90" width="6.00" height="6.00" fill="#9c0c36" />
<rect x="437.20" y="205.50" width="6.00" height="6.00" fill="#9c0c36" />
<rect x="458.20" y="246.20" width="6.00" height="6.00" fill="#9c0c36" />
<rect x="473.10" y="269.80" width="6.00" height="6.00" fill="#9c0c36" />
<rect x="488.80" y="281.80" width="6.00" height="6.00" fill="#9c0c36" />
<polygon points="424.60,169.87 421.70,175.09 427.50,175.09" fill="#70ad40" stroke="none" stroke-width="0"/>
<polygon points="440.20,215.57 437.30,220.79 443.10,220.79" fill="#70ad40" stroke="none" stroke-width="0"/>
<polygon points="461.20,262.87 458.30,268.09 464.10,268.09" fill="#70ad40" stroke="none" stroke-width="0"/>
<polygon points="476.10,280.37 473.20,285.59 479.00,285.59" fill="#70ad40" stroke="none" stroke-width="0"/>
<polygon points="491.80,296.17 488.90,301.39 494.70,301.39" fill="#70ad40" stroke="none" stroke-width="0"/>
<polygon points="408.80,134.54 405.60,140.30 412.00,140.30" fill="#8d9a58" stroke="none" stroke-width="0"/>
<rect x="439.05" y="132.85" width="5.70" height="5.70" fill="#9c0c36" />
<text x="448.00" y="138.60" font-size="7.5" text-anchor="start" fill="#404040" textLength="58.40" lengthAdjust="spacingAndGlyphs" >PGN (200 μg/mL)</text>
<text x="448.00" y="147.00" font-size="7.5" text-anchor="start" fill="#404040" textLength="56.00" lengthAdjust="spacingAndGlyphs" >(IC<tspan font-size='5' dy='1.6'>50</tspan><tspan dy='-1.6'> = 333 ± 30)</tspan></text>
<polygon points="441.80,156.07 438.90,161.29 444.70,161.29" fill="#70ad40" stroke="none" stroke-width="0"/>
<text x="448.00" y="161.60" font-size="7.5" text-anchor="start" fill="#404040" textLength="54.40" lengthAdjust="spacingAndGlyphs" >PGN (50 μg/mL)</text>
<text x="448.00" y="170.20" font-size="7.5" text-anchor="start" fill="#404040" textLength="51.60" lengthAdjust="spacingAndGlyphs" >(IC<tspan font-size='5' dy='1.6'>50</tspan><tspan dy='-1.6'> = 183 ± 5)</tspan></text>
<circle cx="441.70" cy="182.20" r="2.9" fill="#26477a" stroke="none" stroke-width="0"/>
<text x="448.00" y="184.60" font-size="7.5" text-anchor="start" fill="#404040" textLength="30.40" lengthAdjust="spacingAndGlyphs" >NO PGN</text>
<text x="448.00" y="192.60" font-size="7.5" text-anchor="start" fill="#404040" textLength="52.00" lengthAdjust="spacingAndGlyphs" >(IC<tspan font-size='5' dy='1.6'>50</tspan><tspan dy='-1.6'> = 134 ± 3)</tspan></text>
<rect x="0" y="0" width="520" height="1.2" fill="#000"/>
<rect x="0" y="0" width="1.3" height="441" fill="#000"/>
<rect x="518.7" y="0" width="1.3" height="441" fill="#000"/>
<rect x="0" y="439.4" width="520" height="1.6" fill="#000"/>
</svg>
</body></html>
